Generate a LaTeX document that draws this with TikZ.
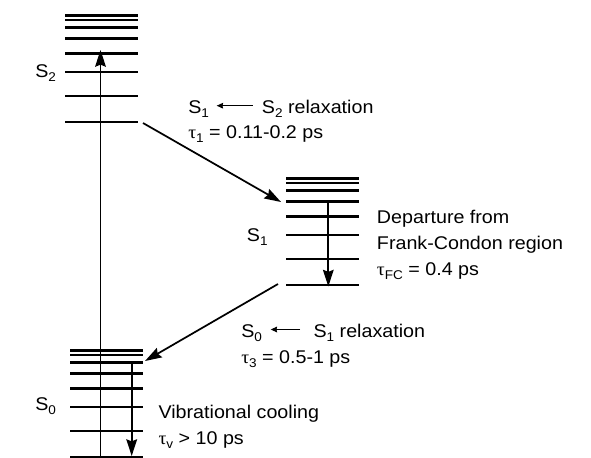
\documentclass[tikz,border=0pt]{standalone}
\usepackage{fontspec}
\setmainfont{Liberation Sans}
\newfontfamily\grk{Liberation Serif}
\usetikzlibrary{arrows.meta}
\newcommand\lo[1]{\raisebox{-0.22em}{\fontsize{9.5pt}{9.5pt}\selectfont #1}}
\newcommand\hstr[1]{\scalebox{1.07}[1]{#1}}
\newcommand\tauch{{\grk τ}}
\begin{document}
\begin{tikzpicture}[x=0.75pt,y=-0.75pt,
  lev/.style={line width=2.1pt},
  arr/.style={line width=1.3pt,-{Stealth[length=12.5pt,width=8pt,inset=1.5pt]}},
  tarr/.style={line width=0.8pt,-{Stealth[length=4.8pt,width=4.3pt,inset=0.5pt]}},
  txt/.style={anchor=base west, inner sep=0pt, font=\fontsize{13.8pt}{16pt}\selectfont}]
\useasboundingbox[fill=white] (0,0) rectangle (591,457);
% energy level stacks
\foreach \nm/\x/\b in {s2/65/122, s1/286/285, s0/70/457} {
  \foreach \d [count=\i] in {0,26,50,68.3,83.7,94.7,102,106.5} {
    \draw[lev] (\x,\b-\d) coordinate (\nm l\i) -- ++(73,0) coordinate (\nm r\i);
  }
}
% connector end points
\coordinate (exA) at (100.5,457);
\coordinate (exB) at (100.5,50);
\coordinate (fcA) at (328.3,201.3);
\coordinate (fcB) at (328.3,286.5);
\coordinate (vcA) at (131.7,361);
\coordinate (vcB) at (131.7,456);
\coordinate (d1A) at (143,123);
\coordinate (d1B) at (281,202);
\coordinate (d2A) at (278,284);
\coordinate (d2B) at (145,361);
\draw[arr] (exA) -- (exB);
\draw[arr] (fcA) -- (fcB);
\draw[arr] (vcA) -- (vcB);
\draw[arr] (d1A) -- (d1B);
\draw[arr] (d2A) -- (d2B);
% state labels
\node[txt] (lS2) at (35,77.5) {\hstr{S\lo2}};
\node[txt] (lS1) at (246.7,241.7) {\hstr{S\lo1}};
\node[txt] (lS0) at (35,410) {\hstr{S\lo0}};
% S1 <- S2 relaxation
\node[txt] (r1a) at (188,113) {\hstr{S\lo1}};
\node[txt] (r1b) at (261.7,113) {\hstr{S\lo2 relaxation}};
\coordinate (r1t) at (252.7,105.7);
\coordinate (r1h) at (216.7,105.7);
\draw[tarr] (r1t) -- (r1h);
\node[txt] (r1c) at (188,138) {\hstr{\tauch\lo1 = 0.11-0.2 ps}};
% Frank-Condon
\node[txt] (fc1) at (376.7,223) {\hstr{Departure from}};
\node[txt] (fc2) at (376.7,249) {\hstr{Frank-Condon region}};
\node[txt] (fc3) at (376.7,275) {\hstr{\tauch\lo{FC} = 0.4 ps}};
% S0 <- S1 relaxation
\node[txt] (r3a) at (241,337) {\hstr{S\lo0}};
\node[txt] (r3b) at (313.3,337) {\hstr{S\lo1 relaxation}};
\coordinate (r3t) at (300,329.5);
\coordinate (r3h) at (270.7,329.5);
\draw[tarr] (r3t) -- (r3h);
\node[txt] (r3c) at (241,363) {\hstr{\tauch\lo3 = 0.5-1 ps}};
% vibrational cooling
\node[txt] (vc1) at (158.3,418) {\hstr{Vibrational cooling}};
\node[txt] (vc2) at (158.3,444) {\hstr{\tauch\lo{v} > 10 ps}};
\end{tikzpicture}
\end{document}
